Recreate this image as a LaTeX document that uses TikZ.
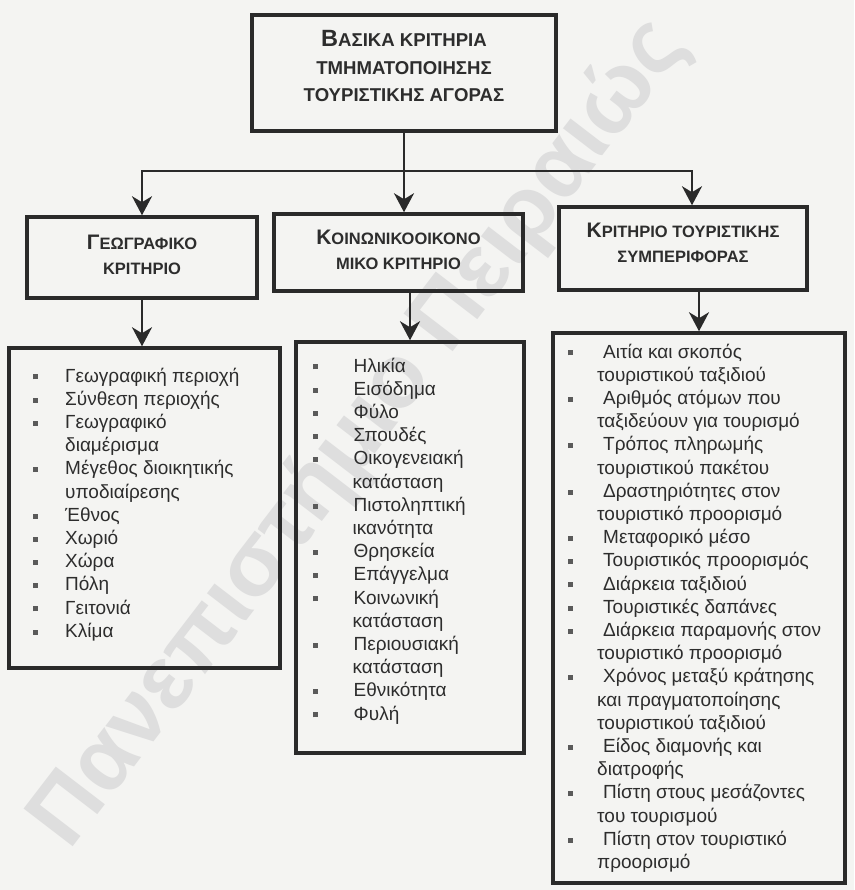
\documentclass[tikz,border=0pt]{standalone}
\usepackage{fontspec}
\setmainfont{Liberation Sans}
\newfontfamily\wmfont{Liberation Sans}
\usetikzlibrary{arrows.meta}

\definecolor{paper}{RGB}{244,244,242}
\definecolor{ink}{RGB}{42,42,42}
\definecolor{txt}{RGB}{45,45,45}
\definecolor{bul}{RGB}{90,90,90}
\definecolor{wm}{RGB}{222,222,222}

% list helpers: bullet square, first line of an item, continuation line
\newlength\bulgap
\newlength\contgap
\newcommand\bsq{\textcolor{bul}{\rule[2.6pt]{5pt}{5pt}}}
\newcommand\itm[1]{\par\noindent\makebox[\bulgap][l]{\bsq}#1}
\newcommand\cnt[1]{\par\noindent\hspace*{\contgap}#1}
\newcommand\listfont{\fontsize{19}{23.2}\selectfont}

% small-caps headings: a larger initial, smaller capitals after it
\newcommand\topbig{\fontsize{23.5}{27.5}\selectfont}
\newcommand\topsmall{\fontsize{18.6}{27.5}\selectfont}
\newcommand\hbig{\fontsize{21}{25}\selectfont}
\newcommand\hsmall{\fontsize{16.5}{25}\selectfont}

\tikzset{
  frame/.style={draw=ink, line width=3.5pt, rectangle, inner sep=0pt},
  toptext/.style={inner sep=0pt, align=center, text=txt, font=\bfseries\topsmall},
  crittext/.style={inner sep=0pt, align=center, text=txt, font=\bfseries\hsmall},
  listtext/.style={anchor=base west, inner sep=0pt, text=txt},
  conn/.style={draw=ink, line width=2.8pt, -{Stealth[length=19pt,width=20pt,inset=6pt]}}
}

\begin{document}
\begin{tikzpicture}[x=1pt, y=-1pt]
  % page and background
  \useasboundingbox (0,0) rectangle (854,890);
  \fill[paper] (0,0) rectangle (854,890);

  % diagonal watermark
  \node[rotate=52.5, text=wm, inner sep=0pt,
        font=\wmfont\bfseries\fontsize{90}{90}\selectfont] (wmark) at (360,434)
        {Πανεπιστήμιο Πειραιώς};

  % heading frames
  \node[frame, minimum width=304pt, minimum height=116pt] (top) at (404,73) {};
  \node[frame, minimum width=230pt, minimum height=81pt] (b1) at (142,257.5) {};
  \node[frame, minimum width=249pt, minimum height=77pt] (b2) at (398.5,252.5) {};
  \node[frame, minimum width=248pt, minimum height=83pt] (b3) at (683,248.5) {};

  % heading texts
  \node[toptext] (h0) at ([yshift=6.5pt]top.center)
    {{\topbig Β}ΑΣΙΚΑ ΚΡΙΤΗΡΙΑ\\ΤΜΗΜΑΤΟΠΟΙΗΣΗΣ\\ΤΟΥΡΙΣΤΙΚΗΣ ΑΓΟΡΑΣ};
  \node[crittext] (h1) at ([yshift=2.5pt]b1.center)
    {{\hbig Γ}ΕΩΓΡΑΦΙΚΟ\\ΚΡΙΤΗΡΙΟ};
  \node[crittext] (h2) at ([yshift=3pt]b2.center)
    {{\hbig Κ}ΟΙΝΩΝΙΚΟΟΙΚΟΝΟ\\ΜΙΚΟ ΚΡΙΤΗΡΙΟ};
  \node[crittext] (h3) at ([yshift=5.5pt]b3.center)
    {{\hbig Κ}ΡΙΤΗΡΙΟ ΤΟΥΡΙΣΤΙΚΗΣ\\ΣΥΜΠΕΡΙΦΟΡΑΣ};

  % list frames
  \node[frame, minimum width=271pt, minimum height=320pt] (l1) at (144.5,508) {};
  \node[frame, minimum width=228pt, minimum height=411pt] (l2) at (410,547.5) {};
  \node[frame, minimum width=292pt, minimum height=550pt] (l3) at (699,608) {};

  % list contents
  \node[listtext] (t1) at (33,382) {\parbox[t]{240pt}{\raggedright\listfont
    \setlength\bulgap{32pt}\setlength\contgap{32pt}%
    \itm{Γεωγραφική περιοχή}
    \itm{Σύνθεση περιοχής}
    \itm{Γεωγραφικό}
    \cnt{διαμέρισμα}
    \itm{Μέγεθος διοικητικής}
    \cnt{υποδιαίρεσης}
    \itm{Έθνος}
    \itm{Χωριό}
    \itm{Χώρα}
    \itm{Πόλη}
    \itm{Γειτονιά}
    \itm{Κλίμα}}};

  \node[listtext] (t2) at (312.5,372) {\parbox[t]{200pt}{\raggedright\listfont
    \setlength\bulgap{41pt}\setlength\contgap{40pt}%
    \itm{Ηλικία}
    \itm{Εισόδημα}
    \itm{Φύλο}
    \itm{Σπουδές}
    \itm{Οικογενειακή}
    \cnt{κατάσταση}
    \itm{Πιστοληπτική}
    \cnt{ικανότητα}
    \itm{Θρησκεία}
    \itm{Επάγγελμα}
    \itm{Κοινωνική}
    \cnt{κατάσταση}
    \itm{Περιουσιακή}
    \cnt{κατάσταση}
    \itm{Εθνικότητα}
    \itm{Φυλή}}};

  \node[listtext] (t3) at (567.5,358) {\parbox[t]{275pt}{\raggedright\listfont
    \setlength\bulgap{35.5pt}\setlength\contgap{29.5pt}%
    \itm{Αιτία και σκοπός}
    \cnt{τουριστικού ταξιδιού}
    \itm{Αριθμός ατόμων που}
    \cnt{ταξιδεύουν για τουρισμό}
    \itm{Τρόπος πληρωμής}
    \cnt{τουριστικού πακέτου}
    \itm{Δραστηριότητες στον}
    \cnt{τουριστικό προορισμό}
    \itm{Μεταφορικό μέσο}
    \itm{Τουριστικός προορισμός}
    \itm{Διάρκεια ταξιδιού}
    \itm{Τουριστικές δαπάνες}
    \itm{Διάρκεια παραμονής στον}
    \cnt{τουριστικό προορισμό}
    \itm{Χρόνος μεταξύ κράτησης}
    \cnt{και πραγματοποίησης}
    \cnt{τουριστικού ταξιδιού}
    \itm{Είδος διαμονής και}
    \cnt{διατροφής}
    \itm{Πίστη στους μεσάζοντες}
    \cnt{του τουρισμού}
    \itm{Πίστη στον τουριστικό}
    \cnt{προορισμό}}};

  % connectors from the main heading to the three criteria
  \coordinate (split) at (404,171);
  \draw[conn] (top.south) -- (top.south |- b2.north);
  \draw[conn] (split) -| (b1.north);
  \draw[conn] (split) -| ([xshift=9pt]b3.north);

  % connectors from each criterion to its list
  \draw[conn] (b1.south) -- (b1.south |- l1.north);
  \draw[conn] (l2.north |- b2.south) -- (l2.north);
  \draw[conn] (l3.north |- b3.south) -- (l3.north);
\end{tikzpicture}
\end{document}
